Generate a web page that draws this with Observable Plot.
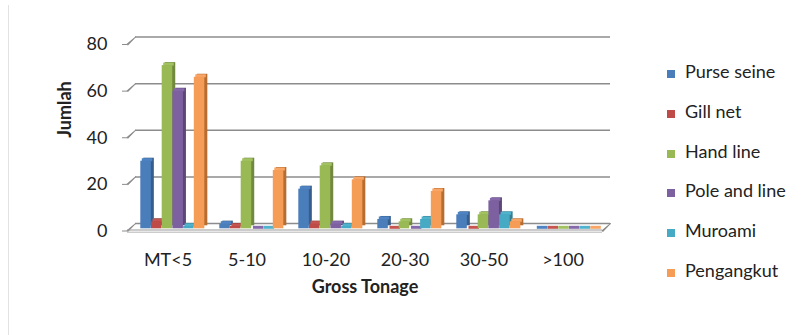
<!DOCTYPE html>
<html>
<head>
<meta charset="utf-8">
<script src="https://cdn.jsdelivr.net/npm/d3@7"></script>
<script src="https://cdn.jsdelivr.net/npm/@observablehq/plot@0.6"></script>
<style>
  html, body { margin: 0; padding: 0; background: #fff; }
  #chart { position: relative; width: 802px; height: 335px; font-family: Lato, "Open Sans", sans-serif; }
  #edge { position: absolute; left: 8px; top: 5px; width: 1px; height: 330px; background: #e2e2e2; }
  #legend { position: absolute; left: 667px; top: 51.5px; color: #222; font-size: 18px; }
  #legend .row { height: 39.7px; display: flex; align-items: center; line-height: 1; white-space: nowrap; }
  #legend .sw { width: 8px; height: 8px; margin: 6px 10px 0 0; flex: none; }
</style>
</head>
<body>
<div id="chart"><div id="edge"></div></div>
<script>
// Gross tonage classes and fishing gear types
const categories = ["MT<5", "5-10", "10-20", "20-30", "30-50", ">100"];
const series = ["Purse seine", "Gill net", "Hand line", "Pole and line", "Muroami", "Pengangkut"];

// Number of vessels per class, one array per gear
const purseSeine  = [29, 2, 17, 4, 6, 0];
const gillNet     = [3, 1, 2, 0, 0, 0];
const handLine    = [70, 29, 27, 3, 6, 0];
const poleAndLine = [59, 0, 2, 0, 12, 0];
const muroami     = [1, 0, 1, 4, 6, 0];
const pengangkut  = [65, 25, 21, 16, 3, 0];

const yTicks = [0, 20, 40, 60, 80];

const values = [purseSeine, gillNet, handLine, poleAndLine, muroami, pengangkut];
const frontColors = ["#4a7ebb", "#be4b48", "#98b954", "#7d60a0", "#46aac5", "#f59d56"];
const sideColors  = ["#385d8a", "#8c3836", "#71893f", "#5c4776", "#357d91", "#b66d31"];
const topColors   = ["#4f84c4", "#c65451", "#a2c161", "#8669aa", "#50b3ce", "#f8a566"];

const rows = series.flatMap((s, j) =>
  categories.map((c, i) => ({category: c, series: s, value: values[j][i]})));

// layout
const width = 802, height = 335;
const marginLeft = 127, marginRight = 200, marginTop = 44, marginBottom = 104.5;
const bw = (width - marginLeft - marginRight) / categories.length;
const barStart = 12.3, barW = 10.7, depth = 3, lift = -2.2;
const wallDx = 8, wallDy = -7.5;
const wallColor = "#8c8c8c";

const barMarks = series.flatMap((s, j) => {
  const data = rows.filter(d => d.series === s);
  const insetLeft = barStart + j * barW;
  const insetRight = bw - insetLeft - barW;
  return [
    // side face
    Plot.rectY(data, {x: "category", y: "value", insetLeft, insetRight,
      dx: depth, dy: lift - depth, fill: sideColors[j]}),
    // top face
    Plot.tickY(data, {x: "category", y: "value", insetLeft, insetRight,
      dx: depth / 2, dy: lift - depth / 2, stroke: topColors[j], strokeWidth: depth}),
    // front face
    Plot.rectY(data, {x: "category", y: "value", insetLeft, insetRight,
      dy: lift, fill: frontColors[j]})
  ];
});

const chart = Plot.plot({
  width, height, marginLeft, marginRight, marginTop, marginBottom,
  style: {fontFamily: "Lato, 'Open Sans', sans-serif", fontSize: "18px", background: "transparent"},
  x: {type: "band", domain: categories, padding: 0},
  y: {domain: [0, 80]},
  marks: [
    // back wall grid and floor back edge
    Plot.ruleY(yTicks, {dx: wallDx, dy: wallDy, stroke: wallColor, strokeWidth: 1.5}),
    // side wall diagonals
    Plot.vector(yTicks, {y: d => d, frameAnchor: "left", length: Math.hypot(wallDx, wallDy),
      rotate: 47, anchor: "start", shape: "spike", r: 0.5, stroke: wallColor, fill: wallColor, strokeWidth: 1}),
    Plot.vector([0], {y: d => d, frameAnchor: "right", length: Math.hypot(wallDx, wallDy),
      rotate: 47, anchor: "start", shape: "spike", r: 0.5, stroke: wallColor, fill: wallColor, strokeWidth: 1}),
    // floor front edge
    Plot.ruleY([0], {stroke: "#9a9a9a", strokeWidth: 1.2, dy: -1}),
    Plot.ruleY([0], {stroke: "#b5b5b5", strokeWidth: 1, dy: 1.2}),
    ...barMarks,
    Plot.axisY({ticks: yTicks, tickSize: 5, tickPadding: 15, line: true,
      stroke: wallColor, fill: "#222", label: null}),
    Plot.axisX({tickSize: 0, tickPadding: 22, fill: "#222", label: null}),
    Plot.text(["Jumlah"], {frameAnchor: "left", dx: -62, rotate: -90,
      fontWeight: "bold", fontSize: 18, fill: "#222"}),
    Plot.text(["Gross Tonage"], {frameAnchor: "bottom", dy: 62,
      fontWeight: "bold", fontSize: 18, fill: "#222"})
  ]
});
chart.style.position = "absolute";
chart.style.left = "0";
chart.style.top = "0";
document.getElementById("chart").appendChild(chart);

// legend
const legend = document.createElement("div");
legend.id = "legend";
series.forEach((s, j) => {
  const row = document.createElement("div");
  row.className = "row";
  const sw = document.createElement("span");
  sw.className = "sw";
  sw.style.background = frontColors[j];
  const label = document.createElement("span");
  label.textContent = s;
  row.append(sw, label);
  legend.appendChild(row);
});
document.getElementById("chart").appendChild(legend);
</script>
</body>
</html>
